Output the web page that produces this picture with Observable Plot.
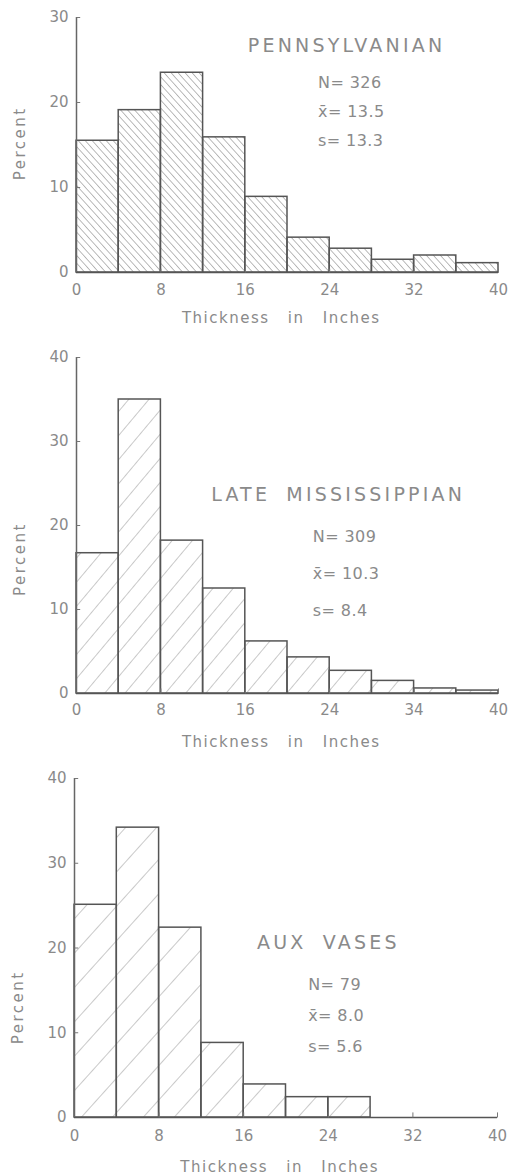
<!DOCTYPE html>
<html>
<head>
<meta charset="utf-8">
<script src="https://cdn.jsdelivr.net/npm/d3@7"></script>
<script src="https://cdn.jsdelivr.net/npm/@observablehq/plot@0.6"></script>
<style>
  html, body { margin: 0; padding: 0; background: #fff; }
  #chart { width: 512px; }
  #chart svg { display: block; }
</style>
</head>
<body>
<svg width="0" height="0" style="position:absolute">
  <defs>
    <pattern id="hatchBack" patternUnits="userSpaceOnUse" width="5.2" height="10" patternTransform="rotate(-42)">
      <line x1="0" y1="-2" x2="0" y2="12" stroke="#777" stroke-width="1"/>
    </pattern>
    <pattern id="hatchFwdDense" patternUnits="userSpaceOnUse" width="15.5" height="10" patternTransform="rotate(40)">
      <line x1="0" y1="-2" x2="0" y2="12" stroke="#888" stroke-width="0.9"/>
    </pattern>
    <pattern id="hatchFwdSparse" patternUnits="userSpaceOnUse" width="23" height="10" patternTransform="rotate(42)">
      <line x1="0" y1="-2" x2="0" y2="12" stroke="#888" stroke-width="0.9"/>
    </pattern>
  </defs>
</svg>
<div id="chart"></div>
<script>
// ---- data ----
const binEdges = [0, 4, 8, 12, 16, 20, 24, 28, 32, 36, 40];

const pennPercent = [15.5, 19.1, 23.5, 15.9, 8.9, 4.1, 2.8, 1.5, 2.0, 1.1];
const lateMissPercent = [16.7, 35.0, 18.2, 12.5, 6.2, 4.3, 2.7, 1.5, 0.6, 0.35];
const auxVasesPercent = [25.1, 34.2, 22.4, 8.8, 3.9, 2.4, 2.4, 0, 0, 0];

const xTickValues = [0, 8, 16, 24, 32, 40];
const xTickLabelsPenn = ["0", "8", "16", "24", "32", "40"];
const xTickLabelsLateMiss = ["0", "8", "16", "24", "34", "40"];
const xTickLabelsAux = ["0", "8", "16", "24", "32", "40"];

const yTicksPenn = [0, 10, 20, 30];
const yTicks40 = [0, 10, 20, 30, 40];

const titles = ["PENNSYLVANIAN", "LATE MISSISSIPPIAN", "AUX VASES"];
const statsPenn = ["N= 326", "x\u0304= 13.5", "s= 13.3"];
const statsLateMiss = ["N= 309", "x\u0304= 10.3", "s= 8.4"];
const statsAux = ["N= 79", "x\u0304= 8.0", "s= 5.6"];

const xAxisTitle = "Thickness in Inches";
const yAxisTitle = "Percent";

// ---- drawing ----
function panel(cfg) {
  const rows = cfg.percent
    .map((p, i) => ({x1: binEdges[i], x2: binEdges[i + 1], pct: p}))
    .filter(d => d.pct > 0);
  const yMax = cfg.yTicks[cfg.yTicks.length - 1];
  const svg = Plot.plot({
    width: 512,
    height: cfg.height,
    marginTop: cfg.marginTop,
    marginBottom: cfg.marginBottom,
    marginLeft: cfg.marginLeft,
    marginRight: cfg.marginRight,
    style: {fontFamily: "'DejaVu Sans', sans-serif", fontSize: "15px", color: "#8a8a8a", background: "#fff", overflow: "visible"},
    x: {domain: [0, 40]},
    y: {domain: [0, yMax]},
    marks: [
      Plot.rectY(rows, {x1: "x1", x2: "x2", y: "pct", fill: `url(#${cfg.hatch})`, stroke: "#555", strokeWidth: 1.5}),
      Plot.ruleY([0], {stroke: "#555", strokeWidth: 1.5}),
      Plot.ruleX([0], {y1: 0, y2: yMax, stroke: "#666", strokeWidth: 1.5}),
      Plot.link(cfg.yTicks.filter(v => v > 0), {x1: 0, x2: 0.35, y1: d => d, y2: d => d, stroke: "#777", strokeWidth: 1}),
      Plot.link(xTickValues.filter(v => v > 0), {x1: d => d, x2: d => d, y1: 0, y2: yMax * 0.015, stroke: "#777", strokeWidth: 1}),
      Plot.axisY(cfg.yTicks, {tickSize: 0, tickPadding: 8, label: null, fontSize: 15}),
      Plot.axisX(xTickValues, {tickSize: 0, tickPadding: cfg.xPad, label: null, fontSize: 15,
        tickFormat: d => cfg.xLabels[xTickValues.indexOf(d)]}),
      Plot.text([cfg.title], {x: cfg.titleX, y: cfg.titleY, fontSize: 19}),
      Plot.text([cfg.stats.join("\n")], {x: cfg.statsX, y: cfg.statsY, textAnchor: "start", fontSize: 16, lineHeight: cfg.statsLH}),
      Plot.text([xAxisTitle], {x: 19.4, y: 0, dy: cfg.xTitleDy, fontSize: 15}),
      Plot.text([yAxisTitle], {x: 0, y: cfg.yTitleY, dx: -56, rotate: -90, fontSize: 15})
    ]
  });
  // letter spacing to mimic the stencil lettering
  d3.select(svg).selectAll("text").each(function() {
    const t = this.textContent;
    const sel = d3.select(this);
    if (titles.includes(t)) sel.style("letter-spacing", "3.2px").style("word-spacing", "7px");
    else if (t === xAxisTitle) sel.style("letter-spacing", "1.5px").style("word-spacing", "12px");
    else if (t === yAxisTitle) sel.style("letter-spacing", "2.5px");
    else if (t.startsWith("N=")) sel.style("letter-spacing", "0.4px");
  });
  return svg;
}

const chart = document.getElementById("chart");
chart.append(panel({
  percent: pennPercent, yTicks: yTicksPenn, xLabels: xTickLabelsPenn, hatch: "hatchBack",
  height: 335, marginTop: 17, marginBottom: 63, marginLeft: 76, marginRight: 14,
  title: titles[0], titleX: 25.6, titleY: 26.7,
  stats: statsPenn, statsX: 22.9, statsY: 19.4, statsLH: 1.8,
  xPad: 12, xTitleDy: 46, yTitleY: 15.2
}));
chart.append(panel({
  percent: lateMissPercent, yTicks: yTicks40, xLabels: xTickLabelsLateMiss, hatch: "hatchFwdDense",
  height: 425, marginTop: 22, marginBottom: 67, marginLeft: 76, marginRight: 14,
  title: titles[1], titleX: 24.8, titleY: 23.6,
  stats: statsLateMiss, statsX: 22.4, statsY: 15.0, statsLH: 2.3,
  xPad: 11, xTitleDy: 49, yTitleY: 16
}));
chart.append(panel({
  percent: auxVasesPercent, yTicks: yTicks40, xLabels: xTickLabelsAux, hatch: "hatchFwdSparse",
  height: 414, marginTop: 18, marginBottom: 57, marginLeft: 74, marginRight: 15,
  title: titles[2], titleX: 24.0, titleY: 20.65,
  stats: statsAux, statsX: 22.1, statsY: 12.6, statsLH: 1.95,
  xPad: 13, xTitleDy: 50, yTitleY: 13
}));
</script>
</body>
</html>
